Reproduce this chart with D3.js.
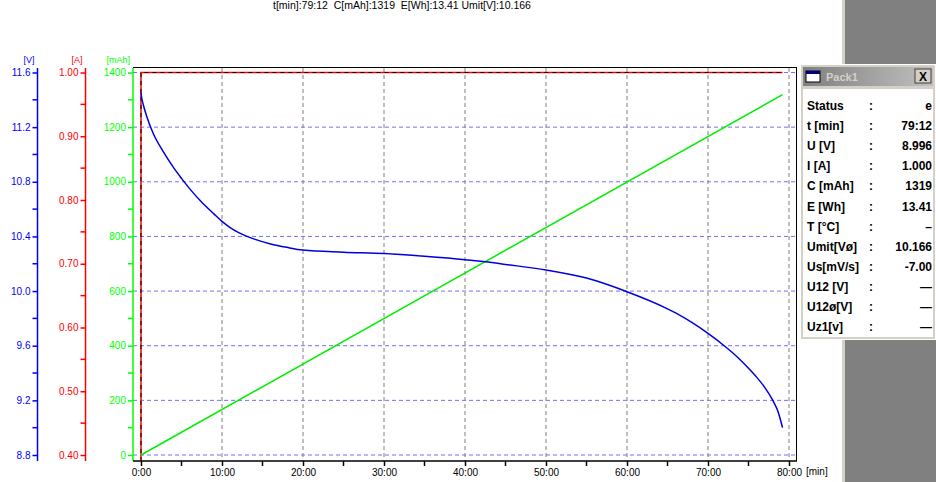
<!DOCTYPE html><html><head><meta charset="utf-8"><script src="https://cdn.jsdelivr.net/npm/d3@7"></script>
<style>body{margin:0;background:#fff}svg{display:block}</style></head><body><svg id="c" width="936" height="482"></svg>
<script>
const xTicks=["0:00","10:00","20:00","30:00","40:00","50:00","60:00","70:00","80:00"];
const vTicks=[8.8,9.2,9.6,10.0,10.4,10.8,11.2,11.6];
const aTicks=[0.40,0.50,0.60,0.70,0.80,0.90,1.00];
const cTicks=[0,200,400,600,800,1000,1200,1400];
const voltT=[0,0.1,0.3,0.7,1.5,2.75,4,5,6,7.5,9,10,11,12,14,16,18,20,25,30,35,40,42.5,45,50,55,60,65,66,68,70,72,73,74,75,76,77,78,78.6,79.2];
const voltV=[11.45,11.41,11.36,11.28,11.155,11.02,10.905,10.825,10.75,10.65,10.565,10.51,10.465,10.43,10.38,10.345,10.32,10.30,10.285,10.275,10.255,10.23,10.214,10.195,10.155,10.095,9.995,9.87,9.84,9.77,9.69,9.60,9.55,9.495,9.435,9.37,9.295,9.20,9.125,9.0];
const capT=[0,79.2];
const capV=[0,1319];
const curT=[0,0,79.2];
const curV=[0,1.0,1.0];
const header="t[min]:79:12  C[mAh]:1319  E[Wh]:13.41 Umit[V]:10.166";
const panelRows=[["Status",":","e"],["t [min]",":","79:12"],["U [V]",":","8.996"],["I [A]",":","1.000"],["C [mAh]",":","1319"],["E [Wh]",":","13.41"],["T [°C]",":","–"],["Umit[Vø]",":","10.166"],["Us[mV/s]",":","-7.00"],["U12 [V]",":","—"],["U12ø[V]",":","—"],["Uz1[v]",":","—"]];

const svg=d3.select("#c");
const F="Arial, 'Liberation Sans', sans-serif";
const x=d3.scaleLinear().domain([0,80]).range([141,789]);
const yV=d3.scaleLinear().domain([8.8,11.6]).range([455,72.5]);
const yA=d3.scaleLinear().domain([0.4,1.0]).range([455,72.5]);
const yC=d3.scaleLinear().domain([0,1400]).range([455,72.5]);

svg.append("rect").attr("x",842).attr("y",0).attr("width",94).attr("height",482).attr("fill","#808080");
svg.append("rect").attr("x",842).attr("y",0).attr("width",3).attr("height",482).attr("fill","#d4d0c8");

svg.append("text").attr("x",273).attr("y",9).attr("font-family",F).attr("font-size",10.5).attr("fill","#000").style("white-space","pre").text(header);

const g=svg.append("g");
[10,20,30,40,50,60,70,80].forEach(t=>g.append("line").attr("x1",x(t)).attr("x2",x(t)).attr("y1",68).attr("y2",461).attr("stroke","#808080").attr("stroke-dasharray","4,3"));
cTicks.forEach(c=>g.append("line").attr("x1",133).attr("x2",797).attr("y1",yC(c)).attr("y2",yC(c)).attr("stroke","#7070ff").attr("stroke-dasharray","4,3"));
svg.append("line").attr("x1",133).attr("x2",797).attr("y1",67.5).attr("y2",67.5).attr("stroke","#000");
svg.append("line").attr("x1",796.5).attr("x2",796.5).attr("y1",67).attr("y2",461).attr("stroke","#000");

function axis(scale,xpos,ticks,fmt,color,minor,label){
  const a=d3.axisLeft(scale).tickValues(ticks).tickFormat(fmt).tickSize(5).tickPadding(2);
  const ga=svg.append("g").attr("transform",`translate(${xpos},0)`).call(a);
  ga.select(".domain").remove();
  ga.append("line").attr("x1",0).attr("x2",0).attr("y1",68).attr("y2",461).attr("stroke",color).attr("stroke-width",1.5);
  ga.selectAll("line").attr("stroke",color);
  ga.selectAll(".tick line").attr("stroke-width",1.5);
  ga.selectAll("text").attr("fill",color).attr("font-family",F).attr("font-size",10);
  minor.forEach(m=>ga.append("line").attr("x1",-5).attr("x2",0).attr("y1",scale(m)).attr("y2",scale(m)).attr("stroke",color).attr("stroke-width",1.5));
  svg.append("text").attr("x",xpos-3).attr("y",63).attr("text-anchor","end").attr("font-family",F).attr("font-size",9).attr("fill",color).text(label);
}
axis(yV,37.5,vTicks,d3.format(".1f"),"#0000ff",d3.range(9.0,11.6,0.4),"[V]");
axis(yA,85.5,aTicks,d3.format(".2f"),"#ff0000",d3.range(0.45,1.0,0.1),"[A]");
axis(yC,133,cTicks,d3.format("d"),"#00ff00",d3.range(100,1400,200),"[mAh]");

const xa=d3.axisBottom(x).tickValues(d3.range(0,81,10)).tickFormat((d,i)=>xTicks[i]).tickSize(5).tickPadding(3);
const gx=svg.append("g").attr("transform","translate(0,461)").call(xa);
gx.select(".domain").remove();
gx.append("line").attr("x1",133).attr("x2",797).attr("stroke","#000").attr("stroke-width",1.5);
gx.selectAll(".tick line").attr("stroke-width",1.5).attr("stroke","#000");
gx.selectAll("text").attr("font-family",F).attr("font-size",10).attr("fill","#000");
d3.range(5,80,10).forEach(t=>gx.append("line").attr("x1",x(t)).attr("x2",x(t)).attr("y1",0).attr("y2",5).attr("stroke","#000").attr("stroke-width",1.5));
svg.append("text").attr("x",806).attr("y",475).attr("font-family",F).attr("font-size",10).text("[min]");

const curData=curT.map((t,i)=>[t,curV[i]]);
const curLine=d3.line().x(d=>x(d[0])).y(d=>Math.min(461,yA(Math.max(d[1],0.3))));
svg.append("path").datum(curData).attr("fill","none").attr("stroke","#ff0000").attr("stroke-width",1.5).attr("d",curLine);
svg.append("path").datum(curData).attr("fill","none").attr("stroke","#000").attr("stroke-width",1).attr("stroke-dasharray","4,4").attr("d",curLine);
const capData=capT.map((t,i)=>[t,capV[i]]);
svg.append("path").datum(capData).attr("fill","none").attr("stroke","#00ee00").attr("stroke-width",1.5).attr("d",d3.line().x(d=>x(d[0])).y(d=>yC(d[1])));
const vData=voltT.map((t,i)=>[t,voltV[i]]);
svg.append("path").datum(vData).attr("fill","none").attr("stroke","#0000dd").attr("stroke-width",1.5).attr("d",d3.line().curve(d3.curveMonotoneX).x(d=>x(d[0])).y(d=>yV(d[1])));

const px=800,py=64,pw=136,ph=276;
svg.append("rect").attr("x",px).attr("y",py).attr("width",pw).attr("height",ph).attr("fill","#d4d0c8");
svg.append("rect").attr("x",px+0.5).attr("y",py+0.5).attr("width",pw-1).attr("height",ph-1).attr("fill","none").attr("stroke","#fff");
const grad=svg.append("defs").append("linearGradient").attr("id","tb");
grad.append("stop").attr("offset","0").attr("stop-color","#808080");
grad.append("stop").attr("offset","1").attr("stop-color","#c0c0c0");
svg.append("rect").attr("x",px+3).attr("y",py+3).attr("width",pw-6).attr("height",19).attr("fill","url(#tb)");
svg.append("rect").attr("x",px+6).attr("y",py+7).attr("width",14).attr("height",11).attr("fill","#fff").attr("stroke","#000");
svg.append("rect").attr("x",px+6).attr("y",py+7).attr("width",14).attr("height",3).attr("fill","#000080");
svg.append("text").attr("x",px+26).attr("y",py+17).attr("font-family",F).attr("font-weight","bold").attr("font-size",11).attr("fill","#d4d0c8").text("Pack1");
svg.append("rect").attr("x",px+115).attr("y",py+5).attr("width",16).attr("height",14).attr("fill","#d4d0c8").attr("stroke","#404040");
svg.append("text").attr("x",px+123).attr("y",py+17).attr("text-anchor","middle").attr("font-family",F).attr("font-weight","bold").attr("font-size",12).text("X");
svg.append("rect").attr("x",px+3).attr("y",py+25).attr("width",pw-6).attr("height",ph-28).attr("fill","#fff");
panelRows.forEach((r,i)=>{
  const yy=py+46+i*20.1;
  svg.append("text").attr("x",px+7).attr("y",yy).attr("font-family",F).attr("font-weight","bold").attr("font-size",12).text(r[0]);
  svg.append("text").attr("x",px+69).attr("y",yy).attr("font-family",F).attr("font-weight","bold").attr("font-size",12).text(r[1]);
  svg.append("text").attr("x",px+132).attr("y",yy).attr("text-anchor","end").attr("font-family",F).attr("font-weight","bold").attr("font-size",12).text(r[2]);
});
</script></body></html>
